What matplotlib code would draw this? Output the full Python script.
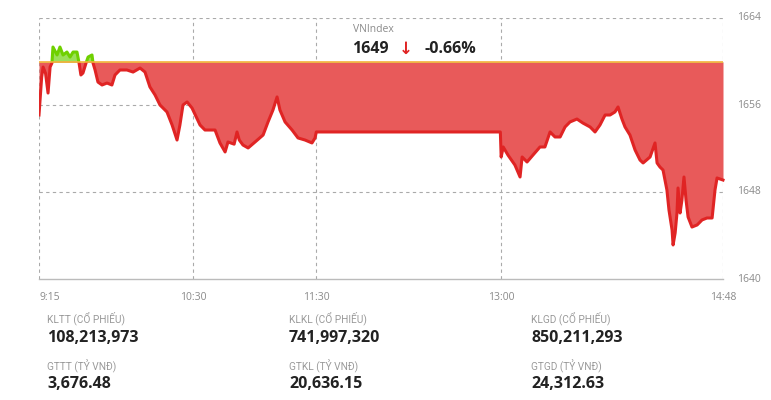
import matplotlib
matplotlib.use("Agg")
import matplotlib.pyplot as plt
from matplotlib.patches import Rectangle

# ---------------------------------------------------------------------------
# Data (minutes after 9:15, VN-Index points)
# ---------------------------------------------------------------------------
REF_CLOSE = 1659.95

minutes = [
    0, 1.3, 2, 3.2, 4.4, 5.4, 6.3, 6.8, 8.8, 10.2, 11.7, 13.6, 15.1, 16.6,
    18.5, 19.5, 20.4, 21.4, 22.9, 23.9, 25.8, 26.3, 27.3, 28.7, 30.7, 33.1,
    35.5, 37, 39.4, 42.8, 45.8, 49.2, 51.6, 54, 56.5, 58.9, 62.3, 64.8, 67.2,
    68.6, 70.1, 72.1, 74.5, 78.4, 80.8, 85.7, 88.1, 90.6, 92, 95, 96.4, 97.5,
    99.3, 101.8, 105.2, 109.1, 111.5, 113.9, 115.9, 117.3, 119.8, 123.2,
    126.1, 129.5, 132.9, 134.4, 135,
    224.6, 225, 226, 228.3, 231.7, 234.2, 235.2, 237.6, 240.5, 243.9, 246.3,
    248.8, 251.2, 253.7, 256.1, 258.5, 261.9, 264.8, 268.3, 270.7, 273.1,
    275.6, 278, 280.4, 281.9, 283.8, 285.3, 287.7, 290.2, 292.6, 294.1,
    297.5, 299.9, 300.9, 302.3, 303.8, 305.7, 306.7, 308.2, 308.7, 309.7,
    310.6, 311.1, 312.1, 313, 314, 315, 316, 317.9, 320.4, 322.8, 325.2,
    327.7, 329.1, 330.1, 333,
]

vnindex = [
    1655.08, 1658.57, 1659.49, 1658.9, 1657.10, 1659.49, 1659.86, 1661.33,
    1660.60, 1661.33, 1660.60, 1660.87, 1660.41, 1660.87, 1660.87, 1659.86,
    1658.76, 1658.94, 1659.86, 1660.41, 1660.60, 1659.86, 1659.22, 1658.11,
    1657.84, 1658.02, 1657.84, 1658.76, 1659.22, 1659.22, 1659.03, 1659.40,
    1659.03, 1657.66, 1656.92, 1656.00, 1655.36, 1654.16, 1652.78, 1654.16,
    1656.00, 1656.28, 1655.72, 1654.16, 1653.70, 1653.70, 1652.51, 1651.68,
    1652.60, 1652.40, 1653.52, 1652.78, 1652.32, 1652.05, 1652.60, 1653.24,
    1654.44, 1655.54, 1656.74, 1655.54, 1654.44, 1653.70, 1652.97, 1652.78,
    1652.51, 1652.97, 1653.52,
    1653.52, 1651.22, 1652.14, 1651.40, 1650.48, 1649.38, 1651.22, 1650.76,
    1651.40, 1652.14, 1652.14, 1653.52, 1653.06, 1653.06, 1653.98, 1654.44,
    1654.71, 1654.34, 1653.98, 1653.52, 1654.16, 1655.08, 1655.08, 1655.36,
    1655.82, 1654.71, 1653.98, 1653.24, 1651.86, 1650.94, 1650.67, 1651.22,
    1652.51, 1650.67, 1650.30, 1650.02, 1648.18, 1646.34, 1644.51, 1643.13,
    1644.23, 1646.07, 1648.37, 1646.07, 1647.26, 1649.38, 1647.26, 1645.70,
    1644.78, 1644.97, 1645.43, 1645.61, 1645.61, 1648.18, 1649.29, 1649.10,
]

tick_minutes = [0, 75, 135, 225, 333]
tick_labels = ["9:15", "10:30", "11:30", "13:00", "14:48"]
y_ticks = [1640, 1648, 1656, 1664]

stat_labels = [
    ["KLTT (CỔ PHIẾU)", "KLKL (CỔ PHIẾU)", "KLGD (CỔ PHIẾU)"],
    ["GTTT (TỶ VNĐ)", "GTKL (TỶ VNĐ)", "GTGD (TỶ VNĐ)"],
]
stat_values = [
    ["108,213,973", "741,997,320", "850,211,293"],
    ["3,676.48", "20,636.15", "24,312.63"],
]

RED_LINE = "#e02424"
RED_FILL = "#e85a5a"
GREEN_LINE = "#6fd000"
GREEN_FILL = "#9be05a"
GRID = "#aaaaaa"
LABEL = "#8a8a8a"
DARK = "#222222"

W, H = 771, 400


def px(x, y):
    return x / W, 1 - y / H


def main():
    plt.rcParams["font.family"] = ["Open Sans", "DejaVu Sans"]
    fig = plt.figure(figsize=(W / 100, H / 100), dpi=100)
    ax = fig.add_axes([39 / W, 1 - 279 / H, 684 / W, 261 / H])

    ax.set_xlim(0, 333)
    ax.set_ylim(1640, 1664)

    # red part (below reference) and green part (above), split via clipping
    below = Rectangle((0, 1600), 400, REF_CLOSE - 1600, transform=ax.transData)
    above = Rectangle((0, REF_CLOSE), 400, 100, transform=ax.transData)

    f_red = ax.fill_between(minutes, vnindex, REF_CLOSE, color=RED_FILL, lw=0, zorder=2)
    f_red.set_clip_path(below)
    l_red, = ax.plot(minutes, vnindex, color=RED_LINE, lw=2.2, zorder=3,
                     solid_joinstyle="round")
    l_red.set_clip_path(below)

    f_grn = ax.fill_between(minutes, vnindex, REF_CLOSE, color=GREEN_FILL, lw=0, zorder=2)
    f_grn.set_clip_path(above)
    l_grn, = ax.plot(minutes, vnindex, color=GREEN_LINE, lw=2.2, zorder=3,
                     solid_joinstyle="round")
    l_grn.set_clip_path(above)

    ax.axhline(REF_CLOSE, color="#f5b13a", lw=1.2, zorder=4)

    # grid
    for t in tick_minutes:
        ax.axvline(t, color=GRID, lw=0.8, ls=(0, (3, 3)), zorder=1)
    for v in y_ticks[1:]:
        ax.axhline(v, color=GRID, lw=0.8, ls=(0, (3, 3)), zorder=1)

    for side in ["top", "left", "right"]:
        ax.spines[side].set_visible(False)
    ax.spines["bottom"].set_color("#bbbbbb")
    ax.spines["bottom"].set_linewidth(1.0)
    ax.set_xticks([])
    ax.set_yticks([])

    for t, lab in zip(tick_minutes, tick_labels):
        ax.annotate(lab, (t, 1640), xytext=(0, -13), textcoords="offset points",
                    ha="left" if t == 0 else "center", va="center",
                    fontsize=7.5, color=LABEL, annotation_clip=False)
    for v in y_ticks:
        ax.annotate(str(v), (333, v), xytext=(10, 0), textcoords="offset points",
                    ha="left", va="center", fontsize=7.5, color=LABEL,
                    annotation_clip=False)

    # header
    fig.text(*px(353, 30), "VNIndex", fontsize=7.5, color=LABEL, va="center")
    fig.text(*px(352, 49), "1649", fontsize=11.5, fontweight="bold", color=DARK, va="center")
    fig.text(*px(399, 49), "↓", fontsize=12, fontweight="bold", color=RED_LINE,
             va="center", family=["DejaVu Sans"])
    fig.text(*px(424, 49), "-0.66%", fontsize=11.5, fontweight="bold", color=DARK, va="center")

    # bottom stats
    col_x = [47, 289, 531]
    for r, (ly, vy) in enumerate([(318, 338), (366, 384)]):
        for c, x in enumerate(col_x):
            fig.text(*px(x, ly), stat_labels[r][c], fontsize=7.3, color="#9a9a9a",
                     va="center", family=["Roboto", "DejaVu Sans"])
            fig.text(*px(x, vy), stat_values[r][c], fontsize=11.5, fontweight="bold",
                     color=DARK, va="center")

    fig.savefig("out.png", dpi=100)


if __name__ == "__main__":
    main()
